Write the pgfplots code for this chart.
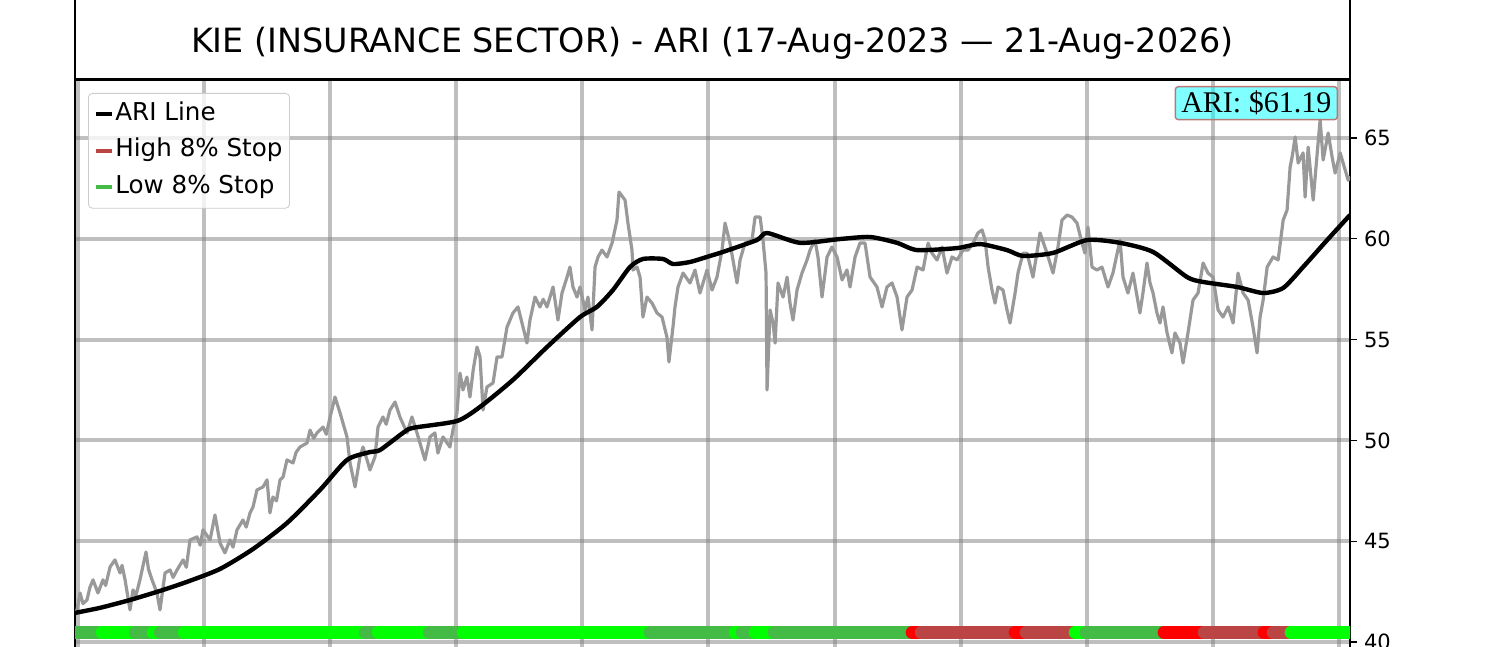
\documentclass[border=0pt]{standalone}
\usepackage{pgfplots}
\pgfplotsset{compat=1.18}
\usepackage{fontspec}
\setmainfont{DejaVu Sans}
\newfontfamily\serifx{Liberation Serif}
\definecolor{limeg}{HTML}{00FF00}
\definecolor{dgreen}{HTML}{44BB44}
\definecolor{hred}{HTML}{FF0000}
\definecolor{bred}{HTML}{BB4444}
\definecolor{pricegrey}{HTML}{999999}
\definecolor{cyanx}{rgb}{0,1,1}
\definecolor{ariedge}{HTML}{B87878}
\begin{document}
\begin{tikzpicture}
\begin{axis}[
  name=ax, at={(37.5pt,-2.5pt)}, anchor=south west,
  scale only axis, width=637.5pt, height=286pt,
  xmin=-2.3, xmax=1008.8, ymin=39.5, ymax=67.88,
  xtick={0,100,...,1000}, xticklabels={},
  ytick={40,45,...,65},
  ytick pos=right, yticklabel pos=right,
  tick align=outside,
  major tick length=3.5pt,
  x tick style={draw=none},
  y tick style={black, line width=0.6pt},
  grid=major,
  major grid style={gray, opacity=0.5, line width=2pt},
  axis line style={line width=1pt},
  ticklabel style={font=\fontsize{10.5}{12}\selectfont},
  /pgf/number format/assume math mode=true,
  legend cell align=left,
  legend image code/.code={\draw[#1] (0pt,0pt) -- (8pt,0pt);},
  legend style={at={(0,1)}, anchor=north west, xshift=6.5pt, yshift=-6.5pt,
    draw=black!20, rounded corners=2pt, fill=white, fill opacity=0.8, text opacity=1,
    font=\fontsize{12.3}{14}\selectfont, inner xsep=3pt, inner ysep=3.5pt, row sep=4.2pt,
    nodes={inner xsep=0.5pt, inner ysep=1pt, text height=9pt, text depth=3pt}},
]
% price line
\addplot[pricegrey, line width=1.6pt, line join=round, forget plot] coordinates {
(-2.3,41.4) (-0.7,41.59) (1.7,42.43) (4.0,41.9) (7.2,42.08) (9.5,42.7) (12.0,43.08) (15.9,42.43) (19.9,43.08) (22.0,42.8) (25.5,43.72) (29.4,44.07)
(33.4,43.42) (35.0,43.8) (37.4,43.08) (41.3,41.59) (43.7,42.58) (46.0,42.3) (49.2,43.08) (54.0,44.46) (56.0,43.6) (58.8,43.08) (62.7,42.43) (65.1,41.59)
(69.1,43.42) (73.1,43.57) (75.5,43.2) (78.6,43.57) (83.4,44.07) (86.0,43.7) (88.9,45.06) (94.5,45.21) (97.0,44.8) (99.2,45.56) (104.8,45.06) (108.7,46.30)
(112.7,44.91) (116.6,44.42) (120.6,45.06) (123.0,44.7) (126.2,45.56) (130.9,46.05) (133.5,45.7) (136.5,46.40) (138.9,46.70) (142.0,47.54)
(146.8,47.69) (150.0,48.04) (152.3,46.40) (154.7,47.19) (157.5,47.0) (160.3,48.04) (162.7,48.18) (165.8,49.03) (170.6,48.88) (173.0,49.4)
(176.1,49.67) (181.7,49.87) (184.1,50.51) (187.0,50.1) (189.6,50.37) (194.4,50.66) (197.0,50.3) (200.0,51.16) (203.9,52.15) (207.9,51.36)
(213.4,50.17) (215.8,48.88) (219.8,47.69) (223.7,49.18) (226.1,49.67) (229.3,49.03) (231.6,48.53) (235.6,49.18)
(238.0,50.66) (241.9,51.16) (244.5,50.8) (247.5,51.51) (251.5,51.90) (255.4,51.16) (261.0,50.37) (264.9,51.16) (268.9,50.37)
(275.2,49.03) (279.2,50.17) (283.1,50.37) (285.5,49.37) (289.5,50.17) (295.0,49.67) (297.4,50.51) (300.6,51.36)
(303.0,53.34) (305.4,52.50) (308.5,53.14) (310.9,52.15) (313.5,53.5) (316.5,54.63) (318.9,54.14) (321.3,51.51) (324.4,52.65)
(329.2,52.85) (332.4,54.14) (336.3,54.14) (340.3,55.62) (345.0,56.32) (349.0,56.62) (353.0,55.62) (356.1,54.83)
(358.5,55.97) (362.5,57.11) (366.4,56.62) (369.0,57.0) (372.0,56.62) (376.8,57.61) (380.7,55.97) (383.9,57.31) (387.9,58.10)
(390.2,58.60) (392.6,57.61) (395.8,57.11) (398.2,57.61) (402.1,56.47) (404.5,57.11) (407.7,55.48) (410.1,58.60)
(412.5,59.10) (415.6,59.44) (419.6,59.10) (423.6,59.79) (427.5,60.93) (429.1,62.32) (433.9,61.92) (436.2,60.78)
(439.4,59.44) (440.2,58.45) (443.4,58.60) (445.8,58.10) (448.1,56.12) (451.3,57.11) (455.3,56.81) (459.2,56.32)
(463.2,56.12) (467.1,55.13) (468.7,53.89) (471.9,55.62) (473.5,56.62) (475.9,57.61) (479.9,58.30) (485.4,57.81)
(489.4,58.45) (493.3,57.31) (498.9,58.45) (502.9,57.46) (506.8,58.10) (510.8,59.44) (513.2,60.78) (517.1,59.79)
(522.7,57.81) (525.1,58.95) (529.0,59.79) (534.6,59.94) (537.0,61.08) (541.0,61.08) (543.3,59.94) (545.7,58.30)
(546.5,52.50) (548.9,56.47) (551.3,55.82) (552.9,54.83) (555.2,57.81) (559.2,57.11) (562.4,58.10) (564.7,56.81)
(567.1,55.97) (570.3,57.46) (574.2,58.30) (578.2,58.95) (580.6,59.44) (584.5,59.94) (586.9,59.10) (590.1,57.11)
(594.1,59.10) (598.0,59.59) (602.0,59.10) (606.0,57.96) (609.9,58.45) (612.3,57.61) (616.3,59.10) (620.2,59.79)
(624.2,59.79) (628.2,58.10) (633.7,57.61) (637.7,56.62) (641.6,57.61) (645.6,57.81) (649.6,57.11) (653.5,55.48)
(657.5,57.11) (661.5,57.46) (665.5,58.60) (670.2,58.45) (674.2,59.79) (677.3,59.29) (681.3,58.95) (685.3,59.59)
(689.2,58.30) (693.2,59.10) (697.2,58.95) (701.9,59.44) (705.9,59.44) (709.9,59.79) (713.8,60.29) (717.0,60.44)
(719.4,59.94) (721.8,58.60) (724.9,57.46) (727.3,56.81) (729.7,57.61) (733.6,57.46) (736.8,56.47) (739.2,55.82)
(743.2,57.31) (745.5,58.30) (749.5,59.29) (752.7,59.29) (757.4,58.10) (763.0,60.29) (768.5,59.29) (773.3,58.30)
(777.2,59.59) (780.4,60.93) (784.4,61.18) (788.3,61.08) (792.3,60.78) (796.3,59.79) (798.6,59.29) (801.0,60.58)
(804.2,58.60) (808.2,58.45) (812.1,58.60) (816.9,57.61) (820.8,58.30) (826.4,59.94) (828.8,58.10) (832.7,57.31)
(836.7,58.30) (842.2,56.32) (844.6,57.31) (847.8,58.80) (850.2,57.81) (852.6,57.31) (855.7,56.32) (858.1,55.82)
(860.5,56.62) (863.7,55.33) (867.6,54.34) (870.0,55.33) (874.0,54.83) (876.4,53.84) (880.3,55.33) (884.3,56.96)
(888.3,57.31) (892.3,58.80) (896.2,58.30) (900.2,58.10) (904.2,56.47) (908.1,56.12) (912.1,56.62) (916.1,55.82)
(920.0,58.30) (924.0,57.31) (928.0,56.96) (931.9,55.62) (935.1,54.34) (937.5,56.12) (939.9,56.96) (943.1,58.60)
(947.8,59.10) (951.8,58.95) (955.8,60.93) (958.9,61.43) (961.3,63.56) (962.9,64.06) (965.3,65.05) (967.7,63.76)
(971.6,64.26) (973.2,62.07) (975.6,64.55) (979.6,61.92) (982.8,64.26) (985.1,65.89) (987.5,63.91) (991.5,65.25)
(994.6,64.06) (997.0,63.26) (1001.0,64.26) (1005.0,63.41) (1007.3,62.91) (1008.9,63.10)
};
% ARI line
\addplot[black, line width=2.2pt, line join=round, smooth, tension=0.4, forget plot] coordinates {
(-2.3,41.44) (17.5,41.69) (41.3,42.08) (65.1,42.53) (86.5,42.98) (112.7,43.62) (138.9,44.61) (165.8,45.90)
(192.0,47.54) (213.4,49.03) (231.6,49.42) (239.6,49.52) (257.8,50.37) (265.7,50.62) (300.6,50.96) (318.9,51.66)
(345.0,53.00) (372.0,54.63) (398.2,56.12) (411.6,56.62) (424.3,57.46) (437.8,58.60) (448.1,59.00) (464.0,59.00)
(471.9,58.75) (485.4,58.85) (501.3,59.15) (511.6,59.35) (538.5,59.94) (546.5,60.29) (572.7,59.80) (604.4,59.99)
(628.2,60.09) (649.6,59.80) (665.5,59.44) (697.2,59.54) (715.4,59.74) (736.8,59.44) (749.5,59.15) (773.3,59.30)
(800.3,59.94) (826.4,59.80) (852.6,59.35) (879.6,58.10) (892.3,57.86) (919.3,57.61) (939.9,57.31) (955.8,57.56)
(971.6,58.60) (990.7,59.94) (1008.8,61.18)
};
% stop band
\addplot[dgreen, line width=6.5pt, line cap=round, forget plot] coordinates {(-10,40.47) (19.4,40.47)};
\addplot[limeg, line width=6.5pt, line cap=round, forget plot] coordinates {(19.4,40.47) (45.5,40.47)};
\addplot[dgreen, line width=6.5pt, line cap=round, forget plot] coordinates {(45.5,40.47) (59.8,40.47)};
\addplot[limeg, line width=6.5pt, line cap=round, forget plot] coordinates {(59.8,40.47) (65.4,40.47)};
\addplot[dgreen, line width=6.5pt, line cap=round, forget plot] coordinates {(65.4,40.47) (84.4,40.47)};
\addplot[limeg, line width=6.5pt, line cap=round, forget plot] coordinates {(84.4,40.47) (227.9,40.47)};
\addplot[dgreen, line width=6.5pt, line cap=round, forget plot] coordinates {(227.9,40.47) (238.2,40.47)};
\addplot[limeg, line width=6.5pt, line cap=round, forget plot] coordinates {(238.2,40.47) (278.6,40.47)};
\addplot[dgreen, line width=6.5pt, line cap=round, forget plot] coordinates {(278.6,40.47) (305.6,40.47)};
\addplot[limeg, line width=6.5pt, line cap=round, forget plot] coordinates {(305.6,40.47) (453.9,40.47)};
\addplot[dgreen, line width=6.5pt, line cap=round, forget plot] coordinates {(453.9,40.47) (521.3,40.47)};
\addplot[limeg, line width=6.5pt, line cap=round, forget plot] coordinates {(521.3,40.47) (526.8,40.47)};
\addplot[dgreen, line width=6.5pt, line cap=round, forget plot] coordinates {(526.8,40.47) (537.1,40.47)};
\addplot[limeg, line width=6.5pt, line cap=round, forget plot] coordinates {(537.1,40.47) (552.2,40.47)};
\addplot[dgreen, line width=6.5pt, line cap=round, forget plot] coordinates {(552.2,40.47) (661.6,40.47)};
\addplot[hred, line width=6.5pt, line cap=round, forget plot] coordinates {(661.6,40.47) (668.8,40.47)};
\addplot[bred, line width=6.5pt, line cap=round, forget plot] coordinates {(668.8,40.47) (743.3,40.47)};
\addplot[hred, line width=6.5pt, line cap=round, forget plot] coordinates {(743.3,40.47) (752.0,40.47)};
\addplot[bred, line width=6.5pt, line cap=round, forget plot] coordinates {(752.0,40.47) (790.9,40.47)};
\addplot[limeg, line width=6.5pt, line cap=round, forget plot] coordinates {(790.9,40.47) (799.6,40.47)};
\addplot[dgreen, line width=6.5pt, line cap=round, forget plot] coordinates {(799.6,40.47) (861.4,40.47)};
\addplot[hred, line width=6.5pt, line cap=round, forget plot] coordinates {(861.4,40.47) (893.2,40.47)};
\addplot[bred, line width=6.5pt, line cap=round, forget plot] coordinates {(893.2,40.47) (940.7,40.47)};
\addplot[hred, line width=6.5pt, line cap=round, forget plot] coordinates {(940.7,40.47) (947.9,40.47)};
\addplot[bred, line width=6.5pt, line cap=round, forget plot] coordinates {(947.9,40.47) (962.1,40.47)};
\addplot[limeg, line width=6.5pt, line cap=round, forget plot] coordinates {(962.1,40.47) (1020,40.47)};
% legend
\addlegendimage{black, line width=2pt}
\addlegendentry{ARI Line}
\addlegendimage{bred, line width=2pt}
\addlegendentry{High 8\% Stop}
\addlegendimage{dgreen, line width=2pt}
\addlegendentry{Low 8\% Stop}
\end{axis}
\node[draw, line width=1pt, minimum width=637.5pt, minimum height=40pt, anchor=south, inner sep=0pt] (tb) at (ax.north) {};
\node[font=\fontsize{16.7}{19}\selectfont, anchor=center] at ([yshift=-2pt]tb.center) {KIE (INSURANCE SECTOR) - ARI (17-Aug-2023 — 21-Aug-2026)};
\node[anchor=north east, fill=cyanx, fill opacity=0.5, text opacity=1, draw=ariedge, line width=0.7pt,
  rounded corners=1.5pt, minimum width=81pt, minimum height=16.5pt, inner sep=0pt,
  font=\serifx\fontsize{15}{16}\selectfont] at ([xshift=-6pt,yshift=-3pt]ax.north east) {ARI: \$61.19};
\pgfresetboundingbox
\path[use as bounding box] (0,0) rectangle (750pt,323.5pt);
\end{tikzpicture}
\end{document}
